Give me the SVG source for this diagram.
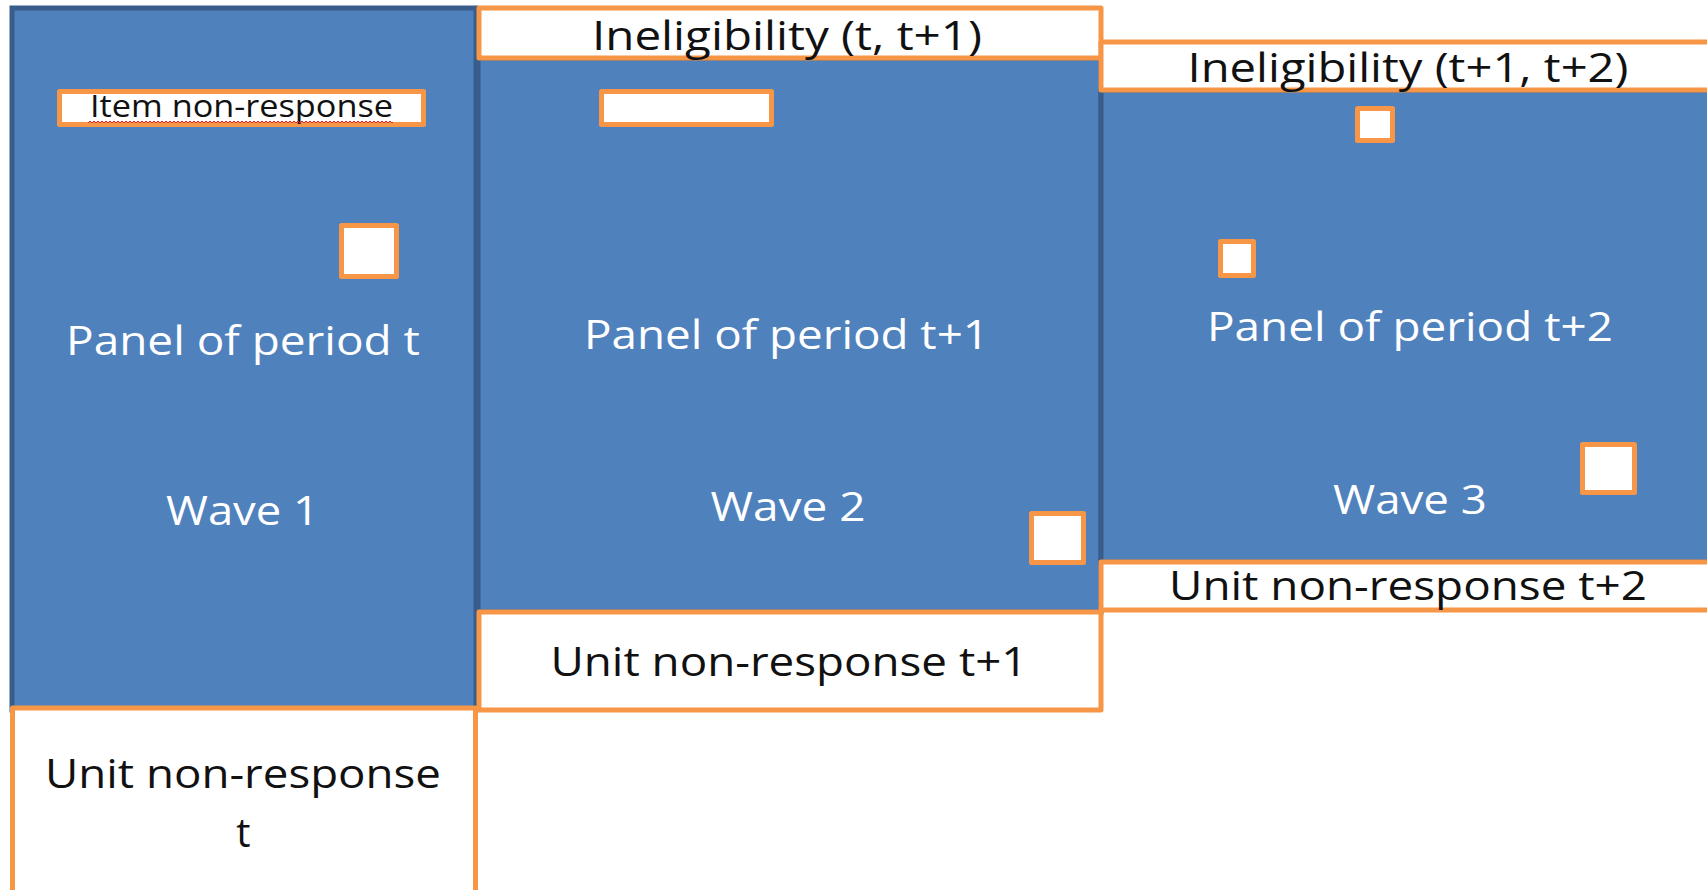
<svg xmlns="http://www.w3.org/2000/svg" width="1707" height="890" viewBox="0 0 1707 890">
<style>
.panel{fill:#4f81bd;stroke:#385d8a;stroke-width:5}
.box{fill:#ffffff;stroke:#f79646;stroke-width:5;stroke-linejoin:round}
.t{font-family:"Open Sans","Noto Sans","Liberation Sans",sans-serif;font-size:40px;text-anchor:middle}
.s{font-size:31px}
.w{fill:#ffffff}
.k{fill:#111111}
</style>
<defs>
<pattern id="squig" x="0" y="120" width="4" height="4" patternUnits="userSpaceOnUse">
<polyline points="0,3 2,1 4,3" fill="none" stroke="#e02020" stroke-width="1"/>
</pattern>
</defs>
<rect width="1707" height="890" fill="#ffffff"/>
<g id="panel1">
<rect class="panel" x="12" y="8" width="464" height="702"/>
<text class="t w" x="243" y="355" textLength="354" lengthAdjust="spacingAndGlyphs">Panel of period t</text>
<text class="t w" x="242.5" y="525" textLength="153" lengthAdjust="spacingAndGlyphs">Wave 1</text>
</g>
<g id="panel2">
<rect class="panel" x="478" y="58" width="623" height="554"/>
<text class="t w" x="786.5" y="349" textLength="405" lengthAdjust="spacingAndGlyphs">Panel of period t+1</text>
<text class="t w" x="788" y="521" textLength="155" lengthAdjust="spacingAndGlyphs">Wave 2</text>
</g>
<g id="panel3">
<rect class="panel" x="1101" y="90" width="620" height="472"/>
<text class="t w" x="1410" y="341" textLength="406" lengthAdjust="spacingAndGlyphs">Panel of period t+2</text>
<text class="t w" x="1410" y="514" textLength="154" lengthAdjust="spacingAndGlyphs">Wave 3</text>
</g>
<g id="item-nonresponse">
<rect class="box" x="59.5" y="91.5" width="364" height="33"/>
<text class="t s k" x="241.5" y="117" textLength="303" lengthAdjust="spacingAndGlyphs">Item non-response</text>
<rect x="88" y="120" width="305" height="4" fill="url(#squig)"/>
</g>
<g id="square1"><rect class="box" x="341.5" y="225.5" width="55" height="51"/></g>
<g id="ineligibility1">
<rect class="box" x="479" y="8" width="622" height="50"/>
<text class="t k" x="787" y="50" textLength="390" lengthAdjust="spacingAndGlyphs">Ineligibility (t, t+1)</text>
</g>
<g id="blank-box2"><rect class="box" x="601.5" y="91.5" width="170" height="33"/></g>
<g id="square2"><rect class="box" x="1031.5" y="513.5" width="52" height="49"/></g>
<g id="unit-nonresponse-t1">
<rect class="box" x="479" y="612" width="622" height="98"/>
<text class="t k" x="789" y="676" textLength="477" lengthAdjust="spacingAndGlyphs">Unit non-response t+1</text>
</g>
<g id="ineligibility2">
<rect class="box" x="1101" y="42" width="620" height="48"/>
<text class="t k" x="1408" y="82" textLength="441" lengthAdjust="spacingAndGlyphs">Ineligibility (t+1, t+2)</text>
</g>
<g id="square3a"><rect class="box" x="1357.5" y="108.5" width="35" height="32"/></g>
<g id="square3b"><rect class="box" x="1220.5" y="241.5" width="33" height="34"/></g>
<g id="square3c"><rect class="box" x="1582.5" y="444.5" width="52" height="48"/></g>
<g id="unit-nonresponse-t2">
<rect class="box" x="1101" y="562" width="620" height="48"/>
<text class="t k" x="1408" y="600" textLength="478" lengthAdjust="spacingAndGlyphs">Unit non-response t+2</text>
</g>
<g id="unit-nonresponse-t">
<rect class="box" x="12.5" y="708" width="463" height="200"/>
<text class="t k" x="243" y="788" textLength="396" lengthAdjust="spacingAndGlyphs">Unit non-response</text>
<text class="t k" x="243.5" y="847">t</text>
</g>
<g id="connectors"></g>
</svg>
